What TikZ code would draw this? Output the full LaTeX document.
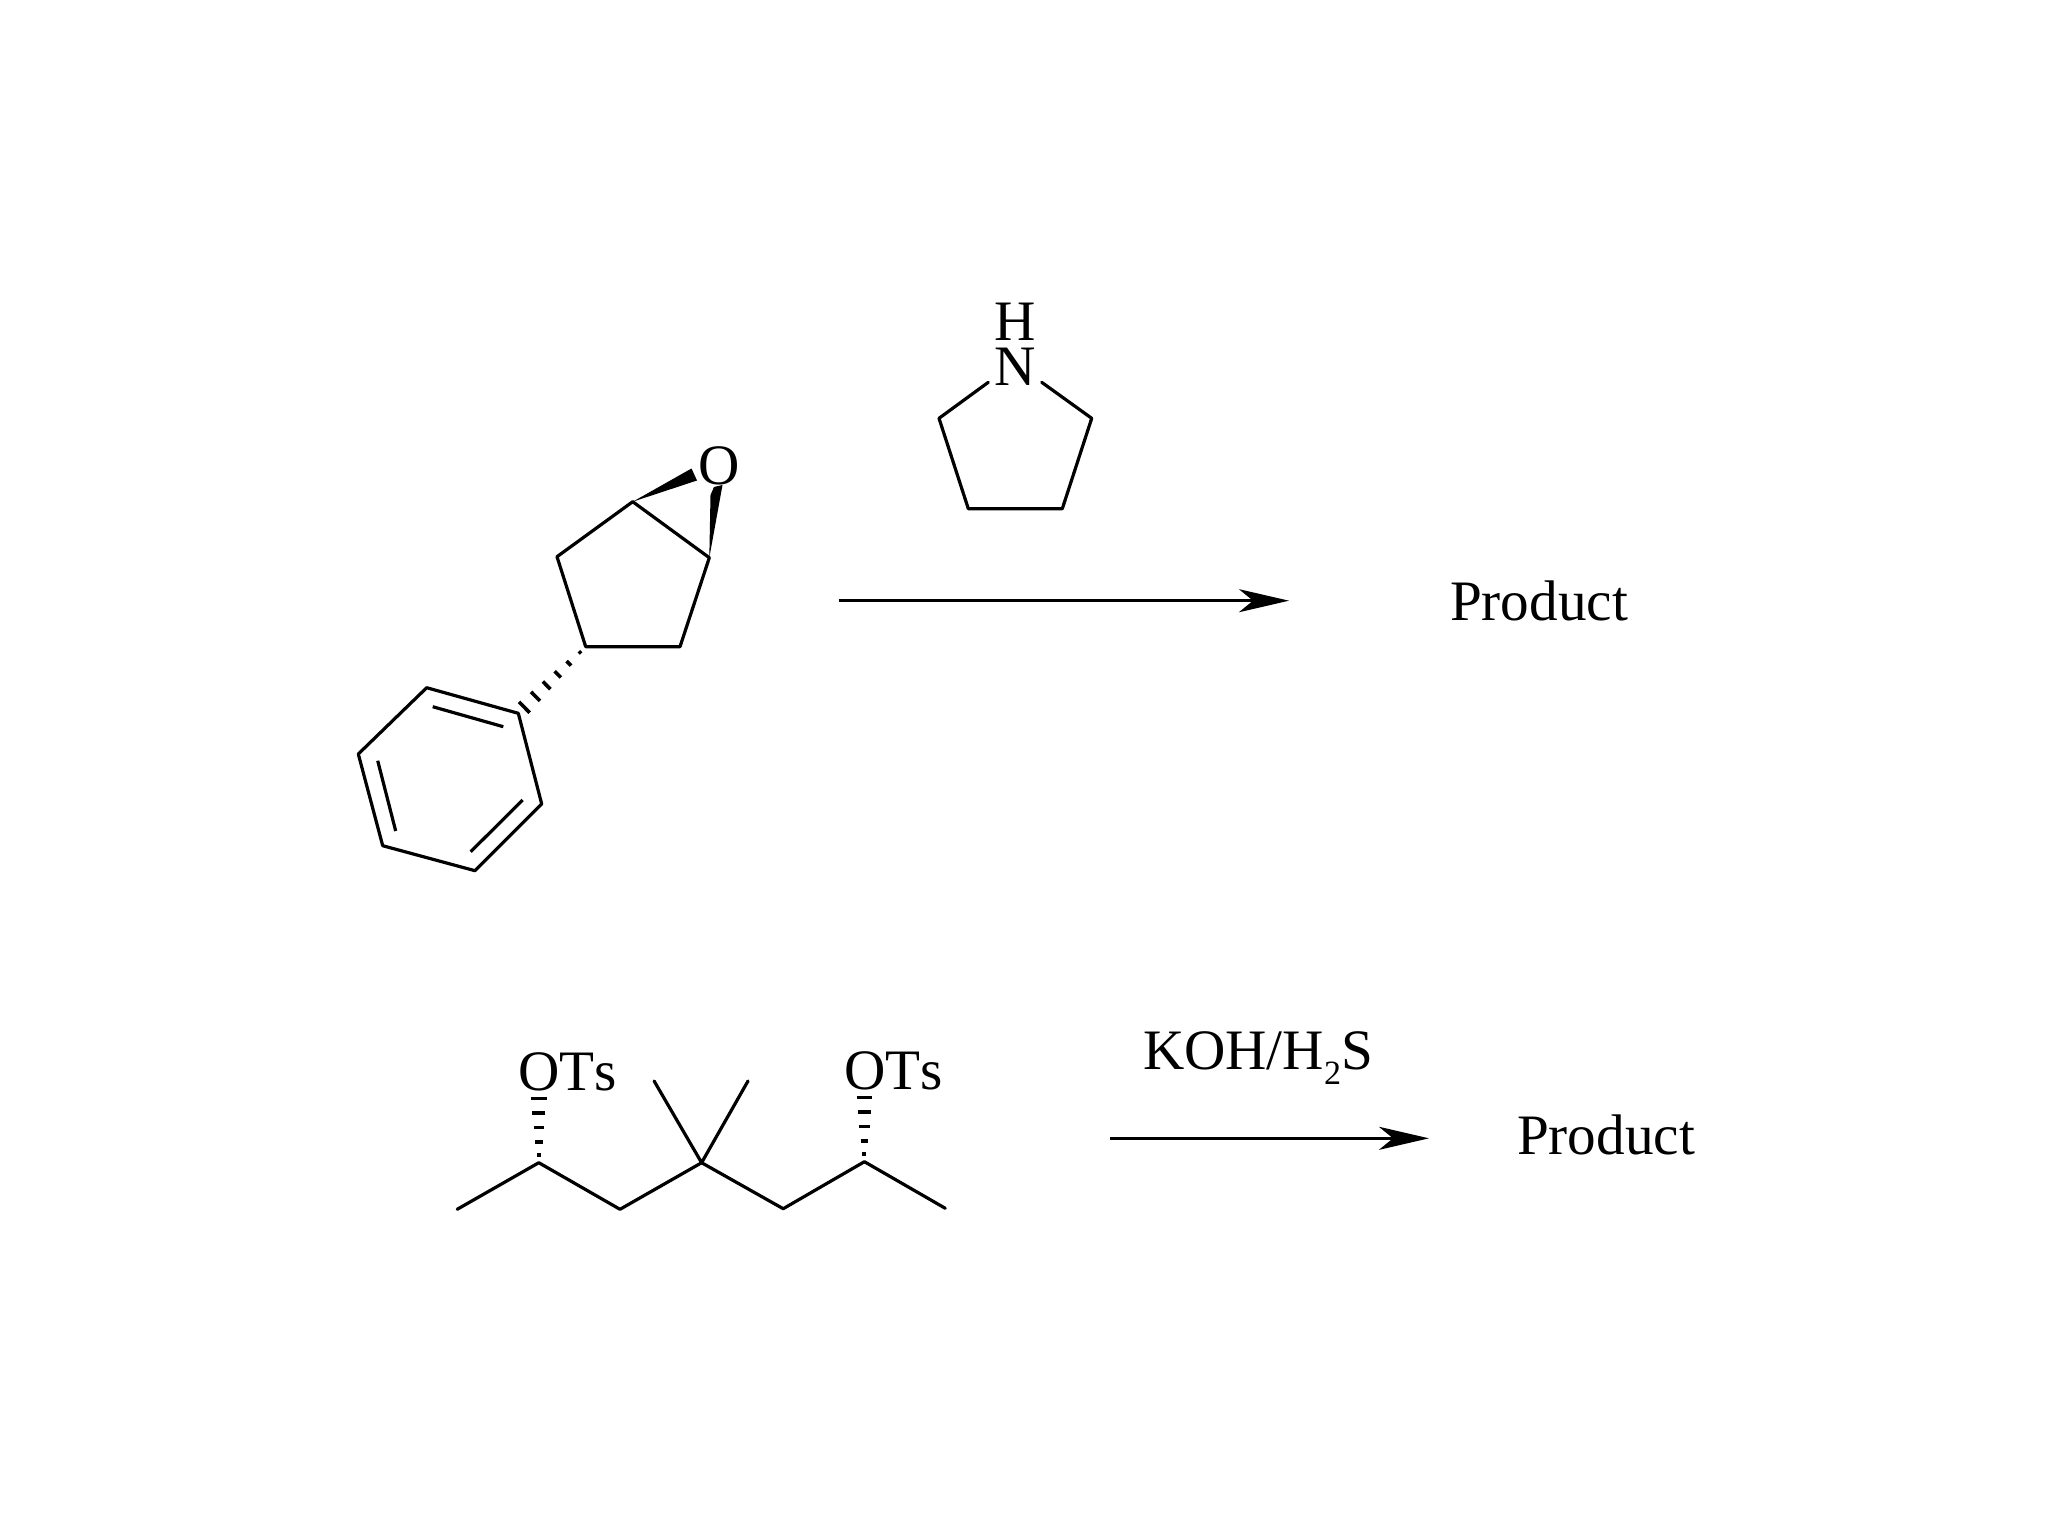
\documentclass[tikz,border=0pt]{standalone}
\usepackage{fontspec}
\setmainfont[Kerning=Off]{Liberation Serif}
\usetikzlibrary{calc,arrows.meta}
\tikzset{
  bond/.style={draw=black,line width=1.6pt,line join=round,line cap=round},
  wedge/.style={fill=black,draw=none},
  hashbar/.style={draw=black,line width=1.8pt},
  rxn/.style={draw=black,line width=1.6pt,-{Stealth[length=25pt,width=11.5pt,inset=7pt]}},
  chem/.style={inner sep=0pt,outer sep=0pt,font=\fontsize{28.6}{28.6}\selectfont,text=black},
}
\begin{document}
\begin{tikzpicture}[x=0.5pt,y=-0.5pt]
\fill[white] (0,0) rectangle (2048,1536);
\useasboundingbox (0,0) rectangle (2048,1536);
% cyclopentane epoxide
\coordinate (c1) at (632.7,501.7);
\coordinate (c2) at (709.3,557.7);
\coordinate (c3) at (680,646.7);
\coordinate (c4) at (585.7,646.7);
\coordinate (c5) at (557,556.7);
\draw[bond] (c1) -- (c2) -- (c3) -- (c4) -- (c5) -- cycle;
\node[chem] (oxy) at (719.5,466) {O};
\coordinate (w1a) at (691.5,468.5);
\coordinate (w1b) at (697,480.5);
\coordinate (w2a) at (710.5,495);
\coordinate (w2b) at (714,487);
\coordinate (w2c) at (722.5,485);
\fill[wedge] (c1) -- (w1a) -- (w1b) -- cycle;
\fill[wedge] (c2) -- (w2a) -- (w2b) -- (w2c) -- cycle;
% phenyl
\coordinate (b1) at (518.3,713.3);
\coordinate (b2) at (541.7,804);
\coordinate (b3) at (475,870.7);
\coordinate (b4) at (382.7,845.7);
\coordinate (b5) at (358.3,754);
\coordinate (b6) at (426.7,687.7);
\draw[bond] (b1) -- (b2) -- (b3) -- (b4) -- (b5) -- (b6) -- cycle;
\coordinate (d1a) at (432.7,706.7);
\coordinate (d1b) at (503.3,726.7);
\coordinate (d2a) at (377.7,760.7);
\coordinate (d2b) at (395.7,831);
\coordinate (d3a) at (522.7,800);
\coordinate (d3b) at (470.7,851.7);
\draw[bond,line cap=butt] (d1a) -- (d1b);
\draw[bond,line cap=butt] (d2a) -- (d2b);
\draw[bond,line cap=butt] (d3a) -- (d3b);
\foreach \t/\w in {.085/0.8pt,.25/1.6pt,.415/2.2pt,.58/2.7pt,.745/3.2pt,.91/3.8pt}{
  \coordinate (m) at ($(c4)!\t!(b1)$);
  \draw[hashbar] ($(m)!\w!90:(b1)$) -- ($(m)!\w!-90:(b1)$);
}
% pyrrolidine
\node[chem] (nit) at (1015.5,367) {N};
\node[chem] (hyd) at (1015.5,321.5) {H};
\coordinate (p1) at (988.3,382.3);
\coordinate (p2) at (939,418.3);
\coordinate (p3) at (968.3,508.7);
\coordinate (p4) at (1062.3,508.7);
\coordinate (p5) at (1091.7,418.3);
\coordinate (p6) at (1041.7,382.3);
\draw[bond] (p1) -- (p2) -- (p3) -- (p4) -- (p5) -- (p6);
% arrow 1
\coordinate (a1s) at (838.5,600.7);
\coordinate (a1e) at (1289,600.7);
\draw[rxn] (a1s) -- (a1e);
\node[chem,anchor=base west] (prod1) at (1450,620) {Product};
% chain
\coordinate (k1) at (457.2,1209.3);
\coordinate (k2) at (538.8,1162.7);
\coordinate (k3) at (620,1209.3);
\coordinate (k4) at (701.6,1162.7);
\coordinate (k5) at (783.2,1208.7);
\coordinate (k6) at (864.4,1161.7);
\coordinate (k7) at (945.3,1208.3);
\coordinate (m1) at (654.1,1081);
\coordinate (m2) at (748,1081);
\draw[bond] (k1) -- (k2) -- (k3) -- (k4) -- (k5) -- (k6) -- (k7);
\draw[bond] (m1) -- (k4) -- (m2);
\node[chem,anchor=base west] (ots1) at (518.5,1090.7) {OTs};
\node[chem,anchor=base west] (ots2) at (844.5,1089.3) {OTs};
\coordinate (h1) at (538.8,1082.7);
\coordinate (h2) at (864.4,1081.7);
\foreach \t/\w in {.096/1pt,.2625/1.9pt,.4425/2.6pt,.625/3.2pt,.805/3.9pt}{
  \coordinate (m) at ($(k2)!\t!(h1)$);
  \draw[hashbar] ($(m)!\w!90:(h1)$) -- ($(m)!\w!-90:(h1)$);
  \coordinate (n) at ($(k6)!\t!(h2)$);
  \draw[hashbar] ($(n)!\w!90:(h2)$) -- ($(n)!\w!-90:(h2)$);
}
% arrow 2
\coordinate (a2s) at (1110,1138.3);
\coordinate (a2e) at (1429,1138.3);
\draw[rxn] (a2s) -- (a2e);
\node[chem,anchor=base west] (koh) at (1143,1069.3) {KOH/H\raisebox{-7.5pt}{\fontsize{17}{17}\selectfont 2}S};
\node[chem,anchor=base west] (prod2) at (1517,1154) {Product};
\end{tikzpicture}
\end{document}
